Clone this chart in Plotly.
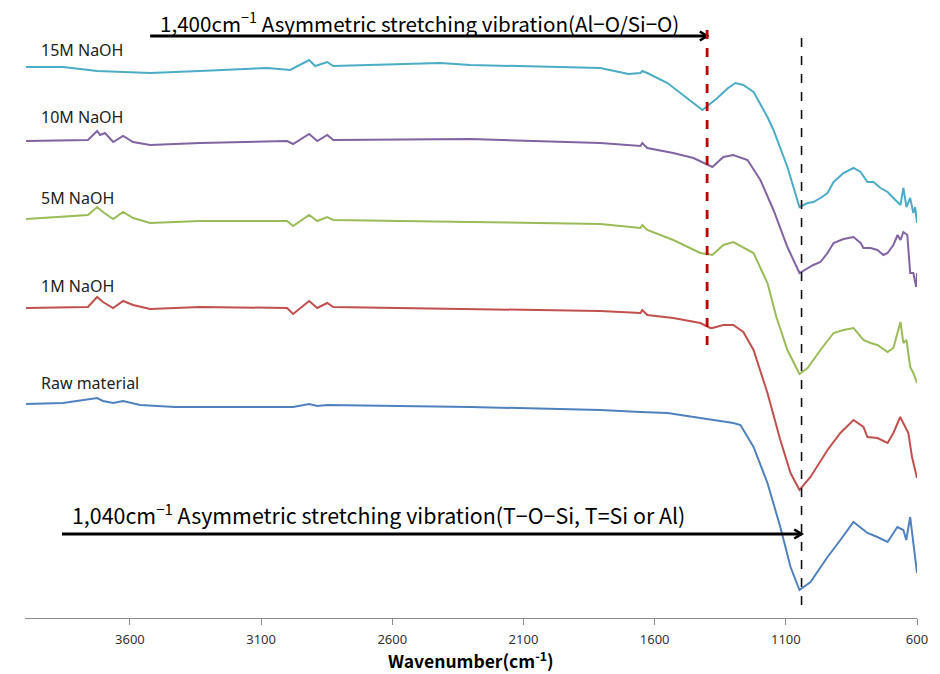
import plotly.graph_objects as go

# ---------------- data (wavenumber cm-1, offset transmittance a.u.) ----------------
wn_15 = [3996, 3855, 3725, 3650, 3523, 3333, 3077, 2989, 2917, 2894, 2848, 2825, 2570, 2417, 2303,
         1807, 1700, 1654, 1647, 1628, 1551, 1490, 1452, 1418, 1399, 1361, 1320, 1292, 1262, 1223,
         1170, 1147, 1094, 1048, 1017, 995, 968, 941, 918, 880, 842, 815, 789, 766, 739, 712, 690,
         663, 652, 640, 626, 614, 607, 600]
t_15 = [551, 551, 547, 546, 545, 547, 550, 548, 558, 552, 556, 552, 554, 555, 553,
        550, 544, 545, 547, 545, 535, 523, 515, 508, 512, 520, 530, 535, 533, 526,
        501, 488, 451, 411, 415, 416, 420, 425, 436, 445, 450, 446, 436, 436, 430, 426, 420,
        413, 430, 411, 420, 405, 411, 395]

wn_10 = [3996, 3760, 3725, 3714, 3695, 3664, 3626, 3588, 3523, 3333, 3001, 2978, 2917, 2886, 2848,
         2825, 2303, 1807, 1654, 1647, 1628, 1529, 1452, 1399, 1380, 1338, 1300, 1246, 1197, 1147,
         1094, 1048, 995, 968, 941, 918, 880, 842, 815, 804, 777, 751, 728, 712, 690, 674, 663,
         652, 637, 626, 614, 603, 600]
t_10 = [477, 478, 487, 483, 485, 476, 482, 476, 473, 475, 477, 474, 484, 477, 483,
        478, 479, 475, 472, 475, 470, 465, 460, 453, 451, 461, 463, 458, 438, 408,
        371, 345, 353, 356, 365, 375, 379, 381, 375, 370, 370, 368, 363, 365, 373, 383, 378,
        386, 383, 345, 345, 331, 345]

wn_5 = [3996, 3760, 3725, 3703, 3664, 3626, 3588, 3523, 3333, 3001, 2978, 2917, 2886, 2848, 2825,
        2417, 2303, 1807, 1654, 1647, 1628, 1529, 1426, 1380, 1338, 1300, 1223, 1170, 1136, 1094,
        1048, 1017, 968, 918, 880, 842, 804, 777, 751, 712, 690, 663, 652, 640, 626, 614, 600]
t_5 = [399, 403, 411, 406, 399, 406, 400, 395, 397, 397, 392, 403, 397, 401, 398,
       396, 396, 394, 390, 393, 388, 378, 365, 363, 373, 376, 365, 335, 301, 268,
       244, 250, 268, 285, 288, 290, 278, 275, 273, 266, 270, 296, 275, 278, 251, 245, 235]

wn_1 = [3996, 3760, 3725, 3703, 3664, 3626, 3588, 3523, 3333, 3001, 2978, 2917, 2886, 2848, 2825,
        2303, 1807, 1654, 1647, 1628, 1529, 1426, 1388, 1380, 1338, 1300, 1262, 1223, 1170, 1121,
        1082, 1048, 1006, 941, 892, 842, 804, 789, 751, 712, 690, 664, 645, 633, 619, 600]
t_1 = [310, 311, 321, 316, 310, 317, 313, 309, 311, 310, 304, 317, 310, 315, 311,
       309, 307, 305, 308, 303, 300, 295, 290, 290, 293, 293, 286, 268, 225, 178,
       145, 128, 141, 168, 185, 198, 191, 181, 180, 175, 185, 201, 191, 185, 161, 140]

wn_raw = [3996, 3855, 3725, 3703, 3664, 3626, 3561, 3428, 2978, 2917, 2886, 2848, 2303, 1807, 1654,
          1551, 1426, 1300, 1273, 1262, 1223, 1170, 1121, 1082, 1048, 1006, 941, 892, 842, 789,
          751, 712, 675, 652, 641, 626, 614, 607, 600]
t_raw = [214, 215, 220, 217, 215, 217, 213, 211, 211, 214, 212, 213, 211, 208, 206,
         205, 200, 195, 193, 188, 171, 135, 91, 51, 28, 36, 61, 78, 96, 85,
         81, 76, 91, 88, 78, 101, 75, 60, 45]

series_names = ["15M NaOH", "10M NaOH", "5M NaOH", "1M NaOH", "Raw material"]
series_x = [wn_15, wn_10, wn_5, wn_1, wn_raw]
series_y = [t_15, t_10, t_5, t_1, t_raw]
series_colors = ["#4BACC6", "#8064A2", "#9BBB59", "#C0504D", "#4F81BD"]
label_y = [568, 501, 420, 332, 235]

tick_vals = [3600, 3100, 2600, 2100, 1600, 1100, 600]
tick_text = ["3600", "3100", "2600", "2100", "1600", "1100", "600"]

peak_al = 1400
peak_si = 1040

# ---------------- figure ----------------
fig = go.Figure()
for name, xs, ys, col in zip(series_names, series_x, series_y, series_colors):
    fig.add_trace(go.Scatter(x=xs, y=ys, mode="lines", name=name,
                             line=dict(color=col, width=2), showlegend=False,
                             hoverinfo="skip"))

for name, ly in zip(series_names, label_y):
    fig.add_annotation(x=3945, y=ly, xref="x", yref="y", text=name, showarrow=False,
                       xanchor="left", yanchor="middle",
                       font=dict(family="Noto Sans", size=16, color="#222222"))

# dashed reference lines
fig.add_shape(type="line", x0=peak_al, x1=peak_al, y0=273, y1=588, xref="x", yref="y",
              line=dict(color="#C00000", width=2.8, dash="dash"))
fig.add_shape(type="line", x0=peak_si, x1=peak_si, y0=13, y1=588, xref="x", yref="y",
              line=dict(color="#111111", width=1.6, dash="dash"))


# arrows (shaft + open chevron head)
def add_arrow(x_start, x_tip, y):
    fig.add_trace(go.Scatter(x=[x_start, x_tip], y=[y, y], mode="lines",
                             line=dict(color="#000000", width=2.8), showlegend=False,
                             hoverinfo="skip"))
    back = 28   # wavenumber units behind the tip
    half = 4.5  # half height of the head
    fig.add_trace(go.Scatter(x=[x_tip + back, x_tip, x_tip + back], y=[y + half, y, y - half],
                             mode="lines", line=dict(color="#000000", width=2.6),
                             showlegend=False, hoverinfo="skip"))


add_arrow(3523, peak_al, 582)
add_arrow(3859, peak_si, 84)

# annotation texts
fig.add_annotation(x=3493, y=596, xref="x", yref="y", showarrow=False, xanchor="left",
                   yanchor="middle",
                   text="1,400cm<sup>\u22121</sup> Asymmetric stretching vibration(Al\u2212O/Si\u2212O)",
                   font=dict(family="Noto Sans CJK KR", size=20.6, color="#000000"))
fig.add_annotation(x=3828, y=104, xref="x", yref="y", showarrow=False, xanchor="left",
                   yanchor="middle",
                   text="1,040cm<sup>\u22121</sup> Asymmetric stretching vibration(T\u2212O\u2212Si, T=Si or Al)",
                   font=dict(family="Noto Sans CJK KR", size=21.4, color="#000000"))

# x-axis title placed as a paper annotation so that its position can be set exactly
fig.add_annotation(x=0.5, y=-0.068, xref="paper", yref="paper", showarrow=False,
                   xanchor="center", yanchor="middle",
                   text="<b>Wavenumber(cm<sup>-1</sup>)</b>",
                   font=dict(family="Noto Sans CJK KR", size=17.5, color="#000000"))

fig.update_layout(
    width=940, height=674,
    margin=dict(l=25, r=23, t=0, b=56),
    paper_bgcolor="white", plot_bgcolor="white",
    xaxis=dict(range=[4000, 600], tickvals=tick_vals, ticktext=tick_text,
               showline=True, linecolor="#8C8C8C", linewidth=1,
               ticks="outside", ticklen=6, tickcolor="#8C8C8C",
               ticklabelstandoff=3,
               showgrid=False, zeroline=False,
               tickfont=dict(family="Noto Sans", size=13, color="#333333")),
    yaxis=dict(range=[0, 618], visible=False, fixedrange=True),
)

# remove the browser's default 8px body margin so the 940x674 figure fills the window
fig.write_html("out.html",
               config={"displayModeBar": False},
               post_script="document.body.style.margin='0px';document.body.style.overflow='hidden';")
